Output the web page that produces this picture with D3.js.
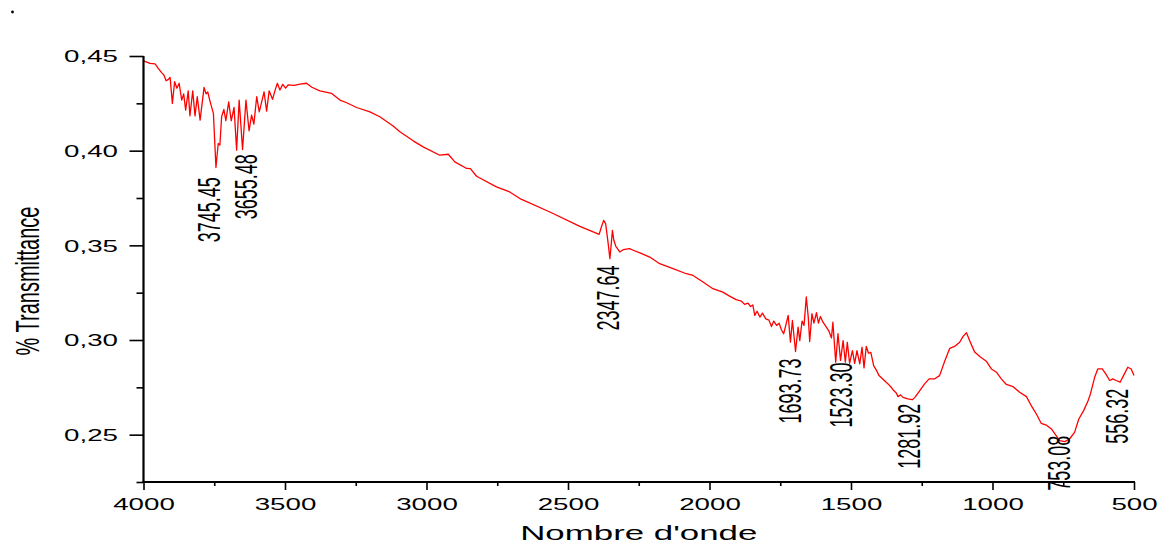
<!DOCTYPE html>
<html>
<head>
<meta charset="utf-8">
<script src="https://cdn.jsdelivr.net/npm/d3@7"></script>
<style>
  html, body { margin: 0; padding: 0; background: #fff; }
  svg { display: block; }
  text { font-family: "Liberation Sans", Arial, sans-serif; fill: #000; }
</style>
</head>
<body>
<svg id="chart" width="1159" height="544"></svg>
<script>
// ---- data ----
const wavenumber = [
  4000,3977,3959,3948,3936,3928,3920,3913,3906,3898,3890,3882,3874,3865,3858,3851,3842,3836,3826,3818,
  3810,3800,3786,3779,3773,3763,3753,3744,3736,3730,3724,3716,3709,3699,3690,3680,3671,3662,3650,3638,
  3627,3618,3610,3600,3591,3582,3574,3565,3556,3544,3535,3527,3518,3508,3498,3489,3468,3447,3424,3405,
  3377,3335,3306,3282,3247,3200,3165,3118,3094,3047,3012,2953,2923,2900,2858,2845,2823,2753,2706,2670,
  2564,2458,2390,2382,2374,2367,2358,2352,2347,2343,2338,2331,2317,2305,2282,2270,2246,2211,2176,2129,
  2082,2058,2023,1988,1953,1929,1906,1887,1876,1864,1855,1847,1840,1832,1822,1813,1801,1790,1781,1773,
  1763,1754,1746,1738,1730,1722,1714,1707,1696,1687,1681,1673,1666,1658,1651,1646,1638,1631,1622,1615,
  1608,1599,1587,1579,1569,1564,1554,1546,1537,1528,1520,1513,1505,1495,1487,1479,1469,1461,1454,1446,
  1438,1430,1420,1410,1401,1385,1369,1355,1349,1340,1334,1325,1316,1299,1283,1274,1257,1240,1224,1204,
  1187,1169,1151,1134,1116,1104,1092,1081,1063,1045,1022,1004,986,969,951,928,904,880,863,845,
  828,810,792,775,763,745,728,710,695,678,663,654,639,628,612,598,586,575,563,549,
  534,522,510,500
];
const transmittance = [
  .4474,.4461,.4458,.4435,.4412,.4400,.4369,.4375,.4387,.4250,.4364,.4330,.4356,.4267,.4300,.4214,.4316,.4184,.4316,.4184,
  .4285,.4161,.4334,.4300,.4310,.4250,.4197,.3911,.4038,.4030,.4179,.4218,.4158,.4258,.4158,.4228,.4003,.4267,.4006,.4267,
  .4105,.4188,.4140,.4285,.4205,.4260,.4311,.4209,.4316,.4271,.4320,.4356,.4320,.4350,.4330,.4347,.4345,.4352,.4356,.4335,
  .4316,.4302,.4267,.4253,.4228,.4205,.4179,.4130,.4100,.4052,.4020,.3976,.3981,.3941,.3906,.3905,.3865,.3809,.3782,.3747,
  .3676,.3600,.3558,.3597,.3632,.3615,.3509,.3430,.3509,.3579,.3527,.3495,.3465,.3477,.3483,.3474,.3460,.3438,.3403,.3377,
  .3350,.3341,.3306,.3271,.3253,.3232,.3213,.3205,.3188,.3195,.3177,.3185,.3130,.3152,.3121,.3142,.3112,.3105,.3071,.3100,
  .3077,.3089,.3054,.3033,.3080,.3130,.2989,.3103,.2939,.3068,.2997,.3100,.3077,.3227,.3121,.2992,.3139,.3089,.3144,.3089,
  .3124,.3094,.3068,.3050,.3011,.3094,.2883,.3033,.2892,.2997,.2883,.2988,.2877,.2944,.2877,.2944,.2874,.2962,.2853,.2966,
  .2930,.2935,.2865,.2840,.2812,.2790,.2768,.2745,.2733,.2720,.2701,.2710,.2697,.2689,.2685,.2697,.2733,.2768,.2795,.2795,
  .2812,.2888,.2956,.2966,.2988,.3019,.3038,.2997,.2936,.2913,.2888,.2847,.2830,.2795,.2765,.2754,.2724,.2701,.2653,.2609,
  .2560,.2551,.2530,.2495,.2468,.2463,.2477,.2512,.2583,.2627,.2676,.2715,.2803,.2847,.2847,.2817,.2786,.2795,.2786,.2777,
  .2821,.2856,.2847,.2812
];
const xMajorTicks = [4000,3500,3000,2500,2000,1500,1000,500];
const xMinorTicks = [3750,3250,2750,2250,1750,1250,750];
const yMajorTicks = [0.25,0.30,0.35,0.40,0.45];
const yMinorTicks = [0.225,0.275,0.325,0.375,0.425];
const peakLabels = ["3745.45","3655.48","2347.64","1693.73","1523.30","1281.92","753.08","556.32"];
// label anchor (wavenumber of label centre, transmittance at label top)
const peakLabelX = [3769,3636,2356,1713,1533,1293,763,558];
const peakLabelY = [.386,.3981,.3394,.2902,.2881,.2664,.2495,.2743];
const xTitle = "Nombre d'onde";
const yTitle = "% Transmittance";

// ---- layout ----
const STRETCH = 1.7;
const svg = d3.select("#chart");
svg.append("rect").attr("width",1159).attr("height",544).attr("fill","#fff");

const x = d3.scaleLinear().domain([4000,500]).range([143.5,1134]);
const y = d3.scaleLinear().domain([0.225,0.45]).range([482,56]);

// small dot top-left
svg.append("circle").attr("cx",12.5).attr("cy",12).attr("r",1.4).attr("fill","#000");

// spectrum line
const pts = wavenumber.map((w,i)=>[w,transmittance[i]]);
svg.append("path")
  .datum(pts)
  .attr("fill","none")
  .attr("stroke","#ff0000")
  .attr("stroke-width",1.3)
  .attr("stroke-linejoin","round")
  .attr("d", d3.line().x(d=>x(d[0])).y(d=>y(d[1])));

// y axis
const fmt = d => d3.format(".2f")(d).replace(".",",");
const gy = svg.append("g").attr("transform","translate(143.5,0)");
gy.append("g").call(d3.axisLeft(y).tickValues(yMinorTicks).tickSize(7).tickSizeOuter(0).tickFormat(""))
  .call(g=>g.select(".domain").remove());
const gyM = gy.append("g").call(d3.axisLeft(y).tickValues(yMajorTicks).tickSize(14).tickSizeOuter(0).tickFormat(fmt));
gyM.select(".domain").remove();
gyM.selectAll(".tick text")
  .attr("x",null).attr("dy","0.35em")
  .attr("transform",`translate(-25.5,0) scale(${STRETCH},1)`)
  .attr("text-anchor","end")
  .style("font-size","16.3px");
gy.selectAll(".tick line").attr("stroke","#000").attr("stroke-width",1.6);
gy.append("line").attr("x1",0).attr("x2",0).attr("y1",y(0.225)+1).attr("y2",y(0.45))
  .attr("stroke","#000").attr("stroke-width",2.2);

// x axis
const gx = svg.append("g").attr("transform","translate(0,482)");
gx.append("g").call(d3.axisBottom(x).tickValues(xMinorTicks).tickSize(4).tickSizeOuter(0).tickFormat(""))
  .call(g=>g.select(".domain").remove());
const gxM = gx.append("g").call(d3.axisBottom(x).tickValues(xMajorTicks).tickSize(8).tickSizeOuter(0).tickFormat(d3.format("d")));
gxM.select(".domain").remove();
gxM.selectAll(".tick text")
  .attr("y",null).attr("dy",null)
  .attr("transform",`translate(0,27.5) scale(${STRETCH},1)`)
  .attr("text-anchor","middle")
  .style("font-size","16.3px");
gx.selectAll(".tick line").attr("stroke","#000").attr("stroke-width",1.6);
gx.append("line").attr("x1",x(4000)-1).attr("x2",x(500)+1).attr("y1",0).attr("y2",0)
  .attr("stroke","#000").attr("stroke-width",2.2);

// peak labels
svg.append("g").selectAll("text").data(peakLabels).join("text")
  .attr("transform",(d,i)=>`translate(${x(peakLabelX[i])},${y(peakLabelY[i])}) scale(${STRETCH},1) rotate(-90)`)
  .attr("text-anchor","end")
  .attr("dy","0.35em")
  .style("font-size","18px")
  .text(d=>d);

// axis titles
svg.append("text")
  .attr("transform",`translate(39,281) scale(${STRETCH},1) rotate(-90)`)
  .attr("text-anchor","middle")
  .style("font-size","20px")
  .text(yTitle);
svg.append("text")
  .attr("transform",`translate(${(x(4000)+x(500))/2},540) scale(${STRETCH},1)`)
  .attr("text-anchor","middle")
  .style("font-size","20.5px")
  .text(xTitle);
</script>
</body>
</html>
